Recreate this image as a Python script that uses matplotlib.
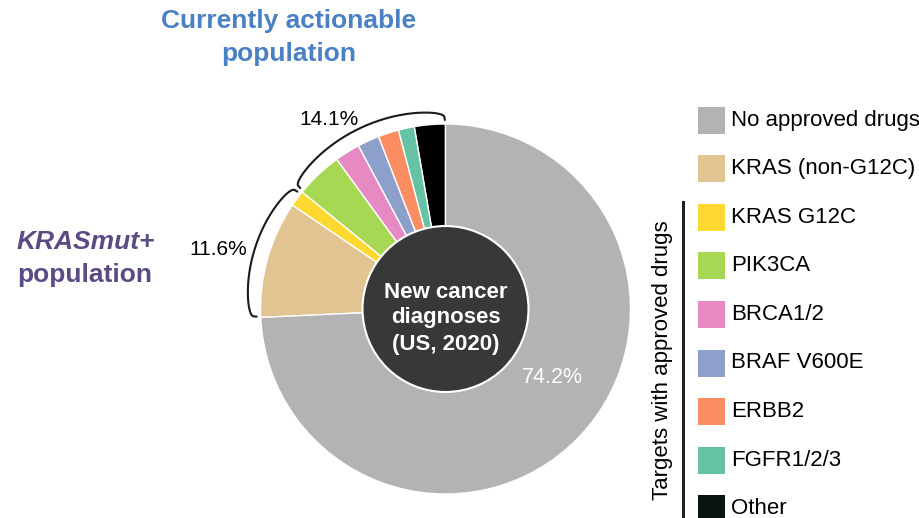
import numpy as np
import matplotlib.pyplot as plt
from matplotlib.patches import Circle, Rectangle

plt.rcParams['font.family'] = ['Liberation Sans', 'DejaVu Sans']

# slices, counter-clockwise from 12 o'clock
slice_labels = ["Other", "FGFR1/2/3", "ERBB2", "BRAF V600E", "BRCA1/2",
                "PIK3CA", "KRAS G12C", "KRAS (non-G12C)", "No approved drugs"]
slice_values = [2.7, 1.4, 1.8, 1.9, 2.2, 4.1, 1.4, 10.2, 74.2]
slice_colors = ["#000000", "#66c2a5", "#fc8d62", "#8da0cb", "#e78ac3",
                "#a6d854", "#ffd92f", "#e2c492", "#b3b3b3"]

legend_labels = ["No approved drugs", "KRAS (non-G12C)", "KRAS G12C", "PIK3CA",
                 "BRCA1/2", "BRAF V600E", "ERBB2", "FGFR1/2/3", "Other"]

actionable_pct = 14.1
kras_pct = 11.6
no_drug_pct = 74.2

W, H = 920, 518
cx, cy, R = 445.5, 309, 185
r_hole = 83


def py(y):
    # pixel rows counted from the top
    return H - y


fig = plt.figure(figsize=(W / 100, H / 100), dpi=100)
ax = fig.add_axes([0, 0, 1, 1])

ax.pie(slice_values, colors=slice_colors, startangle=90, counterclock=True,
       center=(cx, py(cy)), radius=R, frame=True,
       wedgeprops=dict(edgecolor="white", linewidth=1.0))
ax.add_patch(Circle((cx, py(cy)), r_hole, facecolor="#383838",
                    edgecolor="white", linewidth=1.5, zorder=3))
for line, yb in zip(["New cancer", "diagnoses", "(US, 2020)"], [298, 323.5, 350]):
    ax.text(cx, py(yb), line, color="white", fontsize=16, fontweight="bold",
            ha="center", va="baseline", zorder=4)
ax.text(552.5, py(383), f"{no_drug_pct}%", color="white", fontsize=15.5,
        ha="center", va="baseline")

# curly brackets round the slice groups
total = sum(slice_values)
cum = np.cumsum(slice_values) / total * 360
a_split = 90 + cum[5]
a_kras = 90 + cum[7]


def bracket(a0, a1, r0=189, r1=200):
    t = np.linspace(0, 1, 300)
    th = np.radians(a0 + (a1 - a0) * t)
    r = r0 + (r1 - r0) * np.sin(np.pi * t) ** 0.25
    ax.plot(cx + r * np.cos(th), py(cy) + r * np.sin(th),
            color="#1a1a1a", lw=1.5, solid_capstyle="round")


bracket(90.2, a_split - 0.6)
bracket(a_split + 0.8, a_kras - 0.3)
ax.text(329.5, py(125), f"{actionable_pct}%", fontsize=15, ha="center", va="baseline")
ax.text(218, py(255), f"{kras_pct}%", fontsize=15, ha="center", va="baseline")

ax.text(289, py(28), "Currently actionable", color="#4a80c4", fontsize=19,
        fontweight="bold", ha="center", va="baseline")
ax.text(289, py(61), "population", color="#4a80c4", fontsize=19,
        fontweight="bold", ha="center", va="baseline")
ax.text(17, py(249), "KRASmut+", color="#5c4a85", fontsize=19,
        fontweight="bold", fontstyle="italic", ha="left", va="baseline")
ax.text(17, py(282), "population", color="#5c4a85", fontsize=19,
        fontweight="bold", ha="left", va="baseline")

# legend
color_of = dict(zip(slice_labels, slice_colors))
color_of["Other"] = "#0a130f"
for i, lab in enumerate(legend_labels):
    yc = 120 + i * 48.6
    ax.add_patch(Rectangle((698, py(yc) - 13.5), 27, 27, facecolor=color_of[lab],
                           edgecolor="none"))
    ax.text(731, py(yc), lab, fontsize=16, ha="left", va="center")

ax.plot([683, 683], [py(202), py(518)], color="#222222", lw=2.2)
ax.text(663, py(360), "Targets with approved drugs", fontsize=16,
        rotation=90, ha="center", va="center")

ax.set_xlim(0, W)
ax.set_ylim(0, H)
ax.set_aspect("equal")
ax.axis("off")

fig.savefig("out.png", dpi=100)
